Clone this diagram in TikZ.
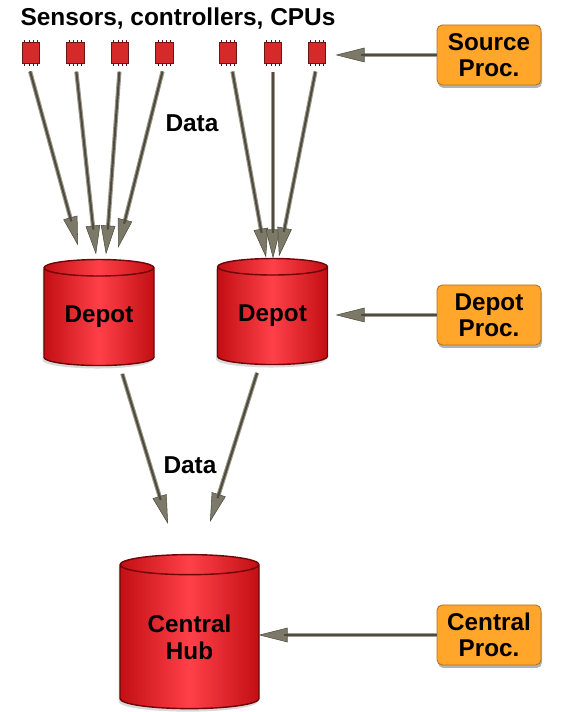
\documentclass[tikz,border=0pt]{standalone}
\usepackage{fontspec}
\setmainfont{Liberation Sans}
\usepackage{xcolor}
\usetikzlibrary{arrows.meta,shapes.geometric,shadows}
\definecolor{drumred}{HTML}{C20F14}
\definecolor{drumlight}{HTML}{FF4049}
\definecolor{drumline}{HTML}{6E0508}
\definecolor{chipred}{HTML}{D62A2A}
\definecolor{procorange}{HTML}{FFA62B}
\definecolor{flowgray}{HTML}{A09C8C}
\definecolor{flowdark}{HTML}{4F4B40}
\definecolor{tipgray}{HTML}{7D7968}

\begin{document}
\begin{tikzpicture}[
  lbl/.style={font=\fontsize{13.9}{15}\selectfont\bfseries, align=center},
  chip/.style={draw=chipred!50!black, fill=chipred, line width=0.5pt, inner sep=0pt,
    minimum width=0.35cm, minimum height=0.41cm},
  drum/.style={cylinder, shape border rotate=90, aspect=0.24, draw=drumline, line width=0.8pt,
    left color=drumred, right color=drumred, middle color=drumlight, inner sep=0pt,
    drop shadow={opacity=0.3, shadow xshift=-0.03cm, shadow yshift=-0.06cm},
    font=\fontsize{13.8}{15.5}\selectfont\bfseries, align=center},
  proc/.style={draw=procorange!70!black, fill=procorange, rounded corners=3pt, line width=0.5pt,
    minimum width=2.08cm, minimum height=1.2cm, inner sep=0pt, align=center,
    drop shadow={opacity=0.6, shadow xshift=0.02cm, shadow yshift=-0.06cm},
    font=\fontsize{13.8}{14.8}\selectfont\bfseries},
  flow/.style={draw=flowgray, line width=2.4pt,
    -{Triangle[length=0.58cm, width=0.29cm, fill=tipgray, color=flowdark, line width=0.3pt]},
    postaction={draw=flowdark, line width=1.2pt, -, shorten >=0.5cm}},
  from/.style={shorten <=0.16cm}
]
  \useasboundingbox (0,0) rectangle (11.56,14.24);
  \node[lbl] (title) at (3.56,13.86) {Sensors, controllers, CPUs};
  \node[lbl] (dataA) at (3.84,11.78) {Data};
  \node[lbl] (dataB) at (3.80,4.94) {Data};
  % sensors
  \node[chip] (chipa) at (0.62,13.18) {};
  \node[chip] (chipb) at (1.51,13.18) {};
  \node[chip] (chipc) at (2.40,13.18) {};
  \node[chip] (chipd) at (3.29,13.18) {};
  \node[chip] (chipe) at (4.56,13.18) {};
  \node[chip] (chipf) at (5.46,13.18) {};
  \node[chip] (chipg) at (6.34,13.18) {};
  \foreach \c in {chipa,chipb,chipc,chipd,chipe,chipf,chipg}
    \foreach \d in {-0.125,-0.042,0.042,0.125} {
      \draw[line width=0.4pt, chipred!40!black] ([xshift=\d cm]\c.north) -- ++(0,0.04);
      \draw[line width=0.4pt, chipred!40!black] ([xshift=\d cm]\c.south) -- ++(0,-0.04);
    }
  % storage
  \node[drum, minimum width=2.2cm, minimum height=2.12cm] (depotA) at (1.98,7.90) {Depot};
  \node[drum, minimum width=2.2cm, minimum height=2.12cm] (depotB) at (5.45,7.92) {Depot};
  \node[drum, minimum width=2.78cm, minimum height=3.08cm] (hub) at (3.79,1.50) {Central\\Hub};
  % processing
  \node[proc] (procS) at (9.78,13.14) {Source\\Proc.};
  \node[proc] (procD) at (9.78,7.94) {Depot\\Proc.};
  \node[proc] (procC) at (9.78,1.54) {Central\\Proc.};
  % free ends of the connectors
  \coordinate (ina) at (1.56,9.33);
  \coordinate (inb) at (1.92,9.15);
  \coordinate (inc) at (2.12,9.15);
  \coordinate (ind) at (2.36,9.28);
  \coordinate (ine) at (5.32,9.09);
  \coordinate (inf) at (5.46,9.07);
  \coordinate (ing) at (5.58,9.11);
  \coordinate (hubin) at (3.36,3.76);
  \coordinate (hubio) at (4.20,3.80);
  \coordinate (srcin) at (6.71,13.14);
  \coordinate (depin) at (6.71,7.94);
  \coordinate (cenin) at (5.17,1.54);
  % connectors
  \draw[flow, from] ([xshift=-0.06cm]chipa.south) -- (ina);
  \draw[flow, from] (chipb.south) -- (inb);
  \draw[flow, from] (chipc.south) -- (inc);
  \draw[flow, from] (chipd.south) -- (ind);
  \draw[flow, from] ([xshift=0.06cm]chipe.south) -- (ine);
  \draw[flow, from] (chipf.south) -- (inf);
  \draw[flow, from] (chipg.south) -- (ing);
  \draw[flow, from] ([xshift=0.42cm]depotA.south) -- (hubin);
  \draw[flow, from] ([xshift=-0.26cm]depotB.south) -- (hubio);
  \draw[flow] (procS) -- (srcin);
  \draw[flow] (procD) -- (depin);
  \draw[flow] (procC) -- (cenin);
\end{tikzpicture}
\end{document}
